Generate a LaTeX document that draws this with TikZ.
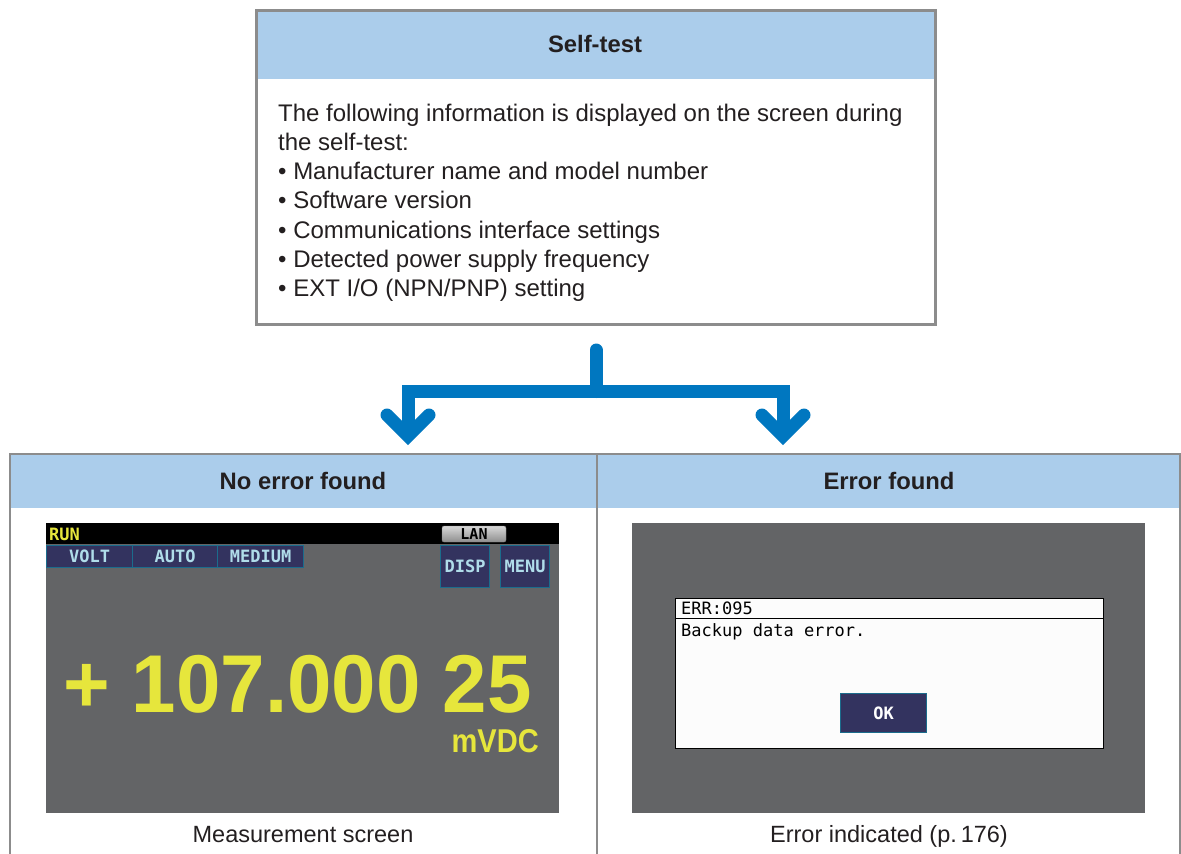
\documentclass[tikz,border=0pt]{standalone}
\usepackage{fontspec}
\setmainfont{Liberation Sans}
\newfontfamily\scrmono{DejaVu Sans Mono}
\usetikzlibrary{calc}
\definecolor{hdrblue}{HTML}{ABCDEB}
\definecolor{framegray}{HTML}{8C8C8C}
\definecolor{txt}{HTML}{231F20}
\definecolor{flowblue}{HTML}{0077C0}
\definecolor{scrgray}{HTML}{636466}
\definecolor{scryellow}{HTML}{E6E63C}
\definecolor{btnnavy}{HTML}{33335F}
\definecolor{btnedge}{HTML}{1B6C8C}
\definecolor{btntxt}{HTML}{B0DDEA}
\definecolor{dlgwhite}{HTML}{FCFCFC}
\definecolor{lanlight}{HTML}{D8D8D8}
\definecolor{landark}{HTML}{8E8E8E}
\tikzset{
  frame/.style={draw=framegray, line width=2.5pt},
  hdr/.style={fill=hdrblue, inner sep=0pt, anchor=north west},
  hdrtext/.style={font=\fontsize{23.8}{27}\selectfont\bfseries, text=txt, anchor=base, inner sep=0pt},
  body/.style={font=\fontsize{24}{29}\selectfont, text=txt, anchor=base west, inner sep=0pt},
  caption/.style={font=\fontsize{23.5}{27}\selectfont, text=txt, anchor=base, inner sep=0pt},
  flow/.style={draw=flowblue, line width=13pt},
  btn/.style={fill=btnnavy, draw=btnedge, line width=1.2pt, anchor=north west, inner sep=0pt,
    text=btntxt, font=\scrmono\bfseries\fontsize{17}{17}\selectfont},
  scrtext/.style={font=\scrmono\fontsize{17}{17}\selectfont, anchor=west, inner sep=0pt},
}
\begin{document}
\begin{tikzpicture}[x=1pt,y=-1pt]
\fill[white] (0,0) rectangle (1181,854);
\useasboundingbox (0,0) rectangle (1181,854);
\clip (0,0) rectangle (1181,854);

% ---------- Self-test box ----------
\node[hdr, minimum width=679pt, minimum height=70pt] (sthead) at (255,9) {};
\node[hdrtext] (sttitle) at (595,52) {Self-test};
\node[frame, minimum width=679pt, minimum height=314pt, anchor=north west, inner sep=0pt] (selftest) at (255,9) {};
\node[body] (l1) at (278,121) {The following information is displayed on the screen during};
\node[body] (l2) at (278,150.3) {the self-test:};
\node[body] (l3) at (278,179.6) {• Manufacturer name and model number};
\node[body] (l4) at (278,208.9) {• Software version};
\node[body] (l5) at (278,238.2) {• Communications interface settings};
\node[body] (l6) at (278,267.5) {• Detected power supply frequency};
\node[body] (l7) at (278,296.8) {• EXT I/O (NPN/PNP) setting};

% ---------- Bottom table ----------
\node[hdr, minimum width=1170pt, minimum height=53pt] (bothead) at (10,455) {};
\draw[frame] (10,870) -- (10,454) -- (1180,454) -- (1180,870);
\draw[frame] (597,454) -- (597,870);
\node[hdrtext] (noerr) at (303,489.5) {No error found};
\node[hdrtext] (err) at (889,489.5) {Error found};

% ---------- Branching arrow ----------
\coordinate (stemtop) at (596,350);
\coordinate (split) at (596,391.5);
\coordinate (ltip) at (408,436);
\coordinate (rtip) at (783,436);
\draw[flow, line cap=round] (stemtop) -- (split);
\draw[flow, line join=miter] (ltip) -- (408,391.5) -- (783,391.5) -- (rtip);
\draw[flow, line cap=round, line join=miter] ($(ltip)+(-21,-21)$) -- (ltip) -- ($(ltip)+(21,-21)$);
\draw[flow, line cap=round, line join=miter] ($(rtip)+(-21,-21)$) -- (rtip) -- ($(rtip)+(21,-21)$);

% ---------- Measurement screen ----------
\fill[scrgray] (46,523) rectangle (559,813);
\fill[black] (46,523) rectangle (559,544);
\node[scrtext, text=scryellow, font=\scrmono\bfseries\fontsize{17}{17}\selectfont] (run) at (49,534) {RUN};
\node[draw=gray, top color=lanlight, bottom color=landark, rounded corners=2pt, inner sep=0pt,
  minimum width=64pt, minimum height=16pt, font=\scrmono\bfseries\fontsize{15}{15}\selectfont, text=black] (lan) at (474,534) {LAN};
\node[btn, minimum width=86pt, minimum height=22pt] (volt) at (46,545) {VOLT};
\node[btn, minimum width=85pt, minimum height=22pt] (auto) at (132,545) {AUTO};
\node[btn, minimum width=86pt, minimum height=22pt] (medium) at (217,545) {MEDIUM};
\node[btn, minimum width=49pt, minimum height=42pt] (disp) at (440,545) {DISP};
\node[btn, minimum width=49pt, minimum height=42pt] (menu) at (500,545) {MENU};
\node[anchor=base west, inner sep=0pt, text=scryellow, font=\bfseries\fontsize{82}{82}\selectfont] (value) at (63,712) {\scalebox{0.974}[1]{+ 107.000 25}};
\node[anchor=base east, inner sep=0pt, text=scryellow, font=\bfseries\fontsize{33}{33}\selectfont] (unit) at (539,752) {\scalebox{0.88}[1]{mVDC}};
\node[caption] (cap1) at (303,842) {Measurement screen};

% ---------- Error screen ----------
\fill[scrgray] (632,523) rectangle (1145,813);
\node[draw=black, fill=dlgwhite, line width=1.2pt, minimum width=428pt, minimum height=150pt, anchor=north west, inner sep=0pt] (dlg) at (675,598) {};
\draw[black, line width=1pt] (dlg.west |- 0,618) -- (dlg.east |- 0,618);
\node[scrtext, text=black] (errcode) at (681,608) {ERR:095};
\node[scrtext, text=black] (errmsg) at (681,632) {Backup data error.};
\node[btn, minimum width=86pt, minimum height=39pt, text=white] (ok) at (840,693) {OK};
\node[caption] (cap2) at (889,842) {Error indicated (p.\,176)};
\end{tikzpicture}
\end{document}
